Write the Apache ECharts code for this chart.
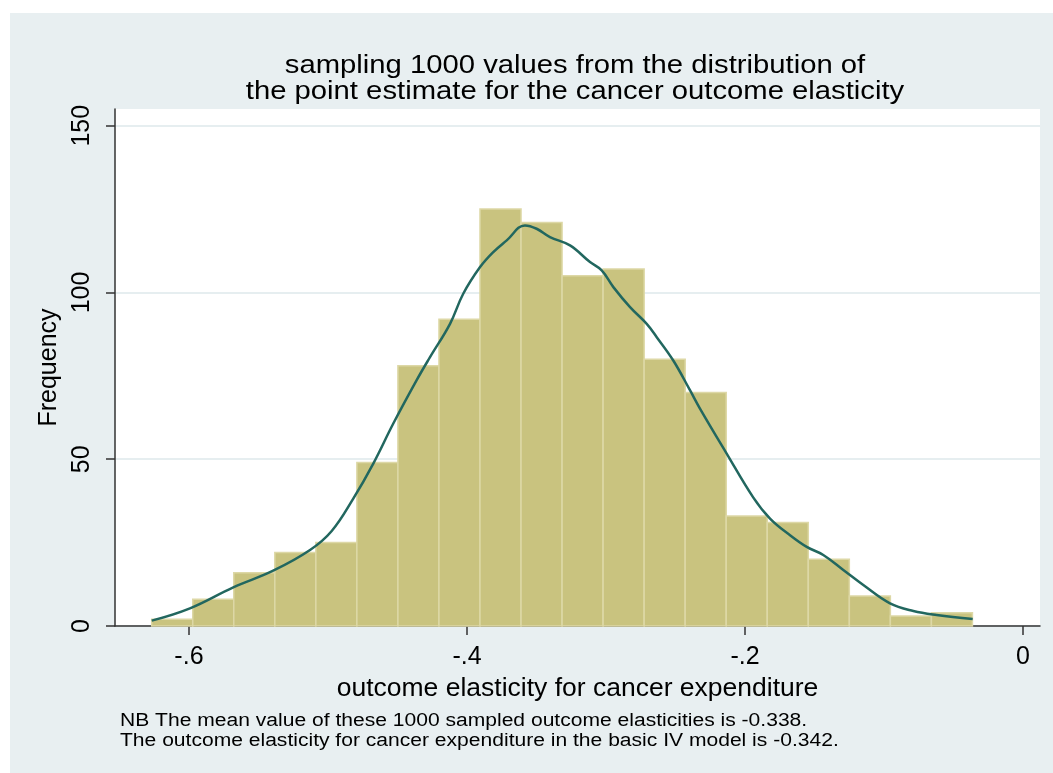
<!DOCTYPE html>
<html>
<head>
<meta charset="utf-8">
<script src="https://cdn.jsdelivr.net/npm/echarts@6/dist/echarts.min.js"></script>
<style>
  html, body { margin: 0; padding: 0; background: #fff; }
  #chart { width: 1053px; height: 773px; }
</style>
</head>
<body>
<div id="chart"></div>
<script>
// histogram bins: first edge, width, counts
const binStart = -0.6268;
const binWidth = 0.02952;
const counts = [2, 8, 16, 22, 25, 49, 78, 92, 125, 121, 105, 107, 80, 70, 33, 31, 20, 9, 3, 4];

// density curve (scaled to frequency)
const curveX = [-0.6268, -0.5993, -0.5681, -0.5394, -0.5129, -0.4973, -0.4818, -0.4674, -0.4530,
  -0.4362, -0.4266, -0.4122, -0.4027, -0.3906, -0.3811, -0.3714, -0.3583, -0.3499, -0.3403,
  -0.3259, -0.3115, -0.3031, -0.2947, -0.2827, -0.2707, -0.2635, -0.2516, -0.2396, -0.2324,
  -0.2132, -0.1940, -0.1820, -0.1676, -0.1556, -0.1437, -0.1293, -0.1149, -0.0957, -0.0789,
  -0.0621, -0.0362];
const curveY = [1.6, 5.3, 11.6, 16.6, 22.8, 28.5, 38.2, 48.7, 60.7,
  73.7, 80.6, 90.6, 99.6, 107.6, 112.1, 115.6, 120.1, 119.1, 116.6,
  114.1, 109.1, 106.6, 101.6, 95.6, 90.6, 86.6, 79.6, 70.7, 65.2,
  51.7, 38.5, 32.2, 27.2, 23.7, 21.3, 16.8, 12.3, 6.8, 4.5,
  3.3, 2.1];

const xTicks = [-0.6, -0.4, -0.2, 0];
const yTicks = [0, 50, 100, 150];

const titleLines = ['sampling 1000 values from the distribution of',
  'the point estimate for the cancer outcome elasticity'];
const noteLines = ['NB The mean value of these 1000 sampled outcome elasticities is -0.338.',
  'The outcome elasticity for cancer expenditure in the basic IV model is -0.342.'];

const font = "'Liberation Sans', Arial, Helvetica, sans-serif";

let bins = counts.map((c, i) => [binStart + i * binWidth, binStart + (i + 1) * binWidth, c]);
let curve = curveX.map((x, i) => [x, curveY[i]]);

let myChart = echarts.init(document.getElementById('chart'));

let option = {
  backgroundColor: '#fff',
  animation: false,
  graphic: [
    {
      type: 'rect', z: -10, silent: true,
      shape: {x: 10, y: 13, width: 1043, height: 760},
      style: {fill: '#e8eff1'}
    },
    {
      // the original text is a bit wider than Liberation Sans, hence scaleX
      type: 'text', x: 575, y: 53, scaleX: 1.17,
      style: {
        x: 0, y: 0,
        text: titleLines.join('\n'), font: '25px ' + font, fill: '#000',
        textAlign: 'center', verticalAlign: 'top', lineHeight: 26
      }
    },
    {
      type: 'text', x: 120, y: 711, scaleX: 1.17,
      style: {
        x: 0, y: 0,
        text: noteLines.join('\n'), font: '18px ' + font, fill: '#000',
        verticalAlign: 'top', lineHeight: 20
      }
    }
  ],
  grid: {left: 115, right: 13, top: 109, bottom: 147, backgroundColor: '#fff', show: true, borderWidth: 0},
  xAxis: {
    type: 'value', min: -0.6532, max: 0.0122,
    name: 'outcome elasticity for cancer expenditure',
    nameLocation: 'middle', nameGap: 44,
    nameTextStyle: {fontSize: 26.5, fontFamily: font, color: '#000'},
    axisLine: {onZero: false, lineStyle: {color: '#333', width: 1.5}},
    axisTick: {show: true, length: 9, customValues: xTicks, lineStyle: {color: '#333', width: 1.5}},
    axisLabel: {
      customValues: xTicks, margin: 19, fontSize: 25, fontFamily: font, color: '#000',
      formatter: v => v === 0 ? '0' : String(v).replace('0.', '.')
    },
    splitLine: {show: false}
  },
  yAxis: {
    type: 'value', min: 0, max: 155, interval: 50,
    name: 'Frequency', nameLocation: 'middle', nameGap: 40, nameRotate: 90,
    nameTextStyle: {fontSize: 25, fontFamily: font, color: '#000'},
    axisLine: {show: true, onZero: false, lineStyle: {color: '#333', width: 1.5}},
    axisTick: {show: true, length: 9, customValues: yTicks, lineStyle: {color: '#333', width: 1.5}},
    axisLabel: {customValues: yTicks, rotate: 90, margin: 20, fontSize: 25, fontFamily: font, color: '#000'},
    splitLine: {show: true, lineStyle: {color: '#e6eef0', width: 2}}
  },
  series: [
    {
      type: 'custom',
      data: bins,
      encode: {x: [0, 1], y: 2},
      renderItem: (params, api) => {
        let p0 = api.coord([api.value(0), 0]);
        let p1 = api.coord([api.value(1), api.value(2)]);
        return {
          type: 'rect',
          shape: {x: p0[0], y: p1[1], width: p1[0] - p0[0], height: p0[1] - p1[1]},
          style: {fill: '#c9c37f', stroke: '#ddd8a6', lineWidth: 1.5}
        };
      }
    },
    {
      type: 'line',
      data: curve,
      smooth: 0.4,
      showSymbol: false,
      z: 5,
      lineStyle: {color: '#22675f', width: 2.5}
    }
  ]
};

myChart.setOption(option);
</script>
</body>
</html>
